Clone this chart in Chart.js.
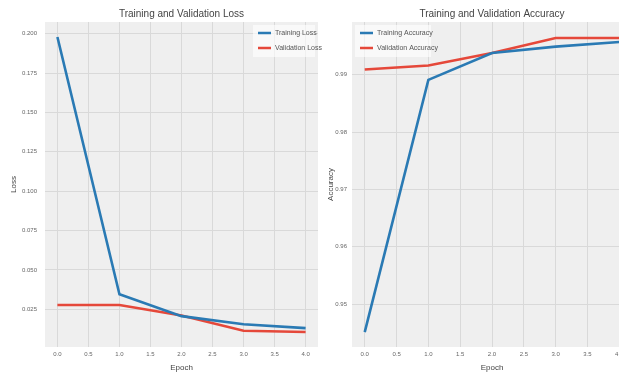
<!DOCTYPE html>
<html>
<head>
<meta charset="utf-8">
<script src="https://cdn.jsdelivr.net/npm/chart.js@4.4.1/dist/chart.umd.min.js"></script>
<style>
  html, body { margin:0; padding:0; background:#ffffff; }
  #wrap { position:relative; width:619px; height:376px; overflow:hidden; }
  #c1box { position:absolute; left:0; top:0; width:322px; height:376px; }
  #c2box { position:absolute; left:322px; top:0; width:310px; height:376px; }
</style>
</head>
<body>
<div id="wrap">
  <div id="c1box"><canvas id="c1" width="322" height="376"></canvas></div>
  <div id="c2box"><canvas id="c2" width="310" height="376"></canvas></div>
</div>
<script>
const epochs = [0, 1, 2, 3, 4];
const trainLoss = [0.198, 0.0345, 0.0206, 0.0155, 0.013];
const valLoss = [0.0277, 0.0277, 0.021, 0.0113, 0.0105];
const trainAcc = [0.9451, 0.9891, 0.9938, 0.9949, 0.9957];
const valAcc = [0.9909, 0.9916, 0.9938, 0.9964, 0.9964];
const xTicks = [0, 0.5, 1, 1.5, 2, 2.5, 3, 3.5, 4];
const lossTicks = [0.025, 0.05, 0.075, 0.1, 0.125, 0.15, 0.175, 0.2];
const accTicks = [0.95, 0.96, 0.97, 0.98, 0.99];

const BLUE = '#2a7ab4';
const RED = '#e5483a';
const FONT = '"Liberation Sans Narrow", "Liberation Sans", sans-serif';

const bgPlugin = {
  id: 'bg',
  beforeDraw(chart) {
    const a = chart.chartArea, ctx = chart.ctx;
    ctx.save();
    ctx.fillStyle = '#efefef';
    ctx.fillRect(a.left, a.top, a.right - a.left, a.bottom - a.top);
    ctx.restore();
  }
};

const titlePlugin = {
  id: 'areatitle',
  afterDraw(chart, args, opts) {
    const ctx = chart.ctx, a = chart.chartArea;
    ctx.save();
    ctx.font = '10px ' + FONT;
    ctx.fillStyle = '#444';
    ctx.textAlign = 'center';
    ctx.textBaseline = 'middle';
    ctx.fillText(opts.text, (a.left + a.right) / 2, 14);
    ctx.restore();
  }
};

const legendPlugin = {
  id: 'inlegend',
  afterDatasetsDraw(chart, args, opts) {
    const ctx = chart.ctx, a = chart.chartArea;
    ctx.save();
    ctx.font = '7px ' + FONT;
    const w = opts.width;
    const x0 = opts.side === 'right' ? a.right - w - 3 : a.left + 3;
    const y0 = a.top + 3;
    ctx.fillStyle = 'rgba(255,255,255,0.6)';
    ctx.fillRect(x0, y0, w, 32);
    chart.data.datasets.forEach((ds, i) => {
      const y = y0 + 8 + i * 15;
      ctx.strokeStyle = ds.borderColor;
      ctx.lineWidth = 2.5;
      ctx.beginPath();
      ctx.moveTo(x0 + 5, y);
      ctx.lineTo(x0 + 18, y);
      ctx.stroke();
      ctx.fillStyle = '#555';
      ctx.textBaseline = 'middle';
      ctx.fillText(ds.label, x0 + 22, y);
    });
    ctx.restore();
  }
};

function makeChart(id, cfg) {
  return new Chart(document.getElementById(id), {
    type: 'line',
    data: {
      datasets: cfg.series.map(s => ({
        label: s.label,
        data: epochs.map((e, i) => ({ x: e, y: s.values[i] })),
        borderColor: s.color,
        borderWidth: 2.6,
        pointRadius: 0,
        tension: 0,
        fill: false
      }))
    },
    options: {
      responsive: false,
      animation: false,
      layout: { padding: { left: 0, right: cfg.padRight, top: 22, bottom: 3 } },
      plugins: {
        legend: { display: false },
        tooltip: { enabled: false },
        title: { display: false },
        areatitle: { text: cfg.title },
        inlegend: { side: cfg.legendSide, width: cfg.legendWidth }
      },
      scales: {
        x: {
          type: 'linear',
          min: -0.2,
          max: 4.2,
          afterBuildTicks(ax) { ax.ticks = xTicks.map(v => ({ value: v })); },
          afterFit(ax) { ax.height = 26; },
          ticks: {
            color: '#666',
            font: { family: FONT, size: 6 },
            padding: 4,
            maxRotation: 0,
            autoSkip: false,
            callback: v => v.toFixed(1)
          },
          grid: { color: '#d9d9d9', lineWidth: 1, drawTicks: false },
          border: { display: false },
          title: {
            display: true,
            text: 'Epoch',
            color: '#444',
            font: { family: FONT, size: 8 },
            padding: { top: 0, bottom: 0 }
          }
        },
        y: {
          type: 'linear',
          min: cfg.ymin,
          max: cfg.ymax,
          afterBuildTicks(ax) { ax.ticks = cfg.yTicks.map(v => ({ value: v })); },
          afterFit(ax) { ax.width = cfg.yWidth; },
          ticks: {
            color: '#666',
            font: { family: FONT, size: 6 },
            padding: cfg.tickPad,
            autoSkip: false,
            callback: v => v.toFixed(cfg.digits)
          },
          grid: { color: '#d9d9d9', lineWidth: 1, drawTicks: false },
          border: { display: false },
          title: {
            display: true,
            text: cfg.yTitle,
            color: '#444',
            font: { family: FONT, size: 8 },
            padding: { top: cfg.yTitlePad, bottom: 0 }
          }
        }
      }
    },
    plugins: [bgPlugin, titlePlugin, legendPlugin]
  });
}

makeChart('c1', {
  title: 'Training and Validation Loss',
  yTitle: 'Loss',
  series: [
    { label: 'Training Loss', values: trainLoss, color: BLUE },
    { label: 'Validation Loss', values: valLoss, color: RED }
  ],
  ymin: 0.001, ymax: 0.2075, yTicks: lossTicks, digits: 3,
  yWidth: 45, tickPad: 8, padRight: 4, yTitlePad: 9,
  legendSide: 'right', legendWidth: 62
});

makeChart('c2', {
  title: 'Training and Validation Accuracy',
  yTitle: 'Accuracy',
  series: [
    { label: 'Training Accuracy', values: trainAcc, color: BLUE },
    { label: 'Validation Accuracy', values: valAcc, color: RED }
  ],
  ymin: 0.9425, ymax: 0.9992, yTicks: accTicks, digits: 2,
  yWidth: 30, tickPad: 5, padRight: 0, yTitlePad: 4,
  legendSide: 'left', legendWidth: 76
});
</script>
</body>
</html>
